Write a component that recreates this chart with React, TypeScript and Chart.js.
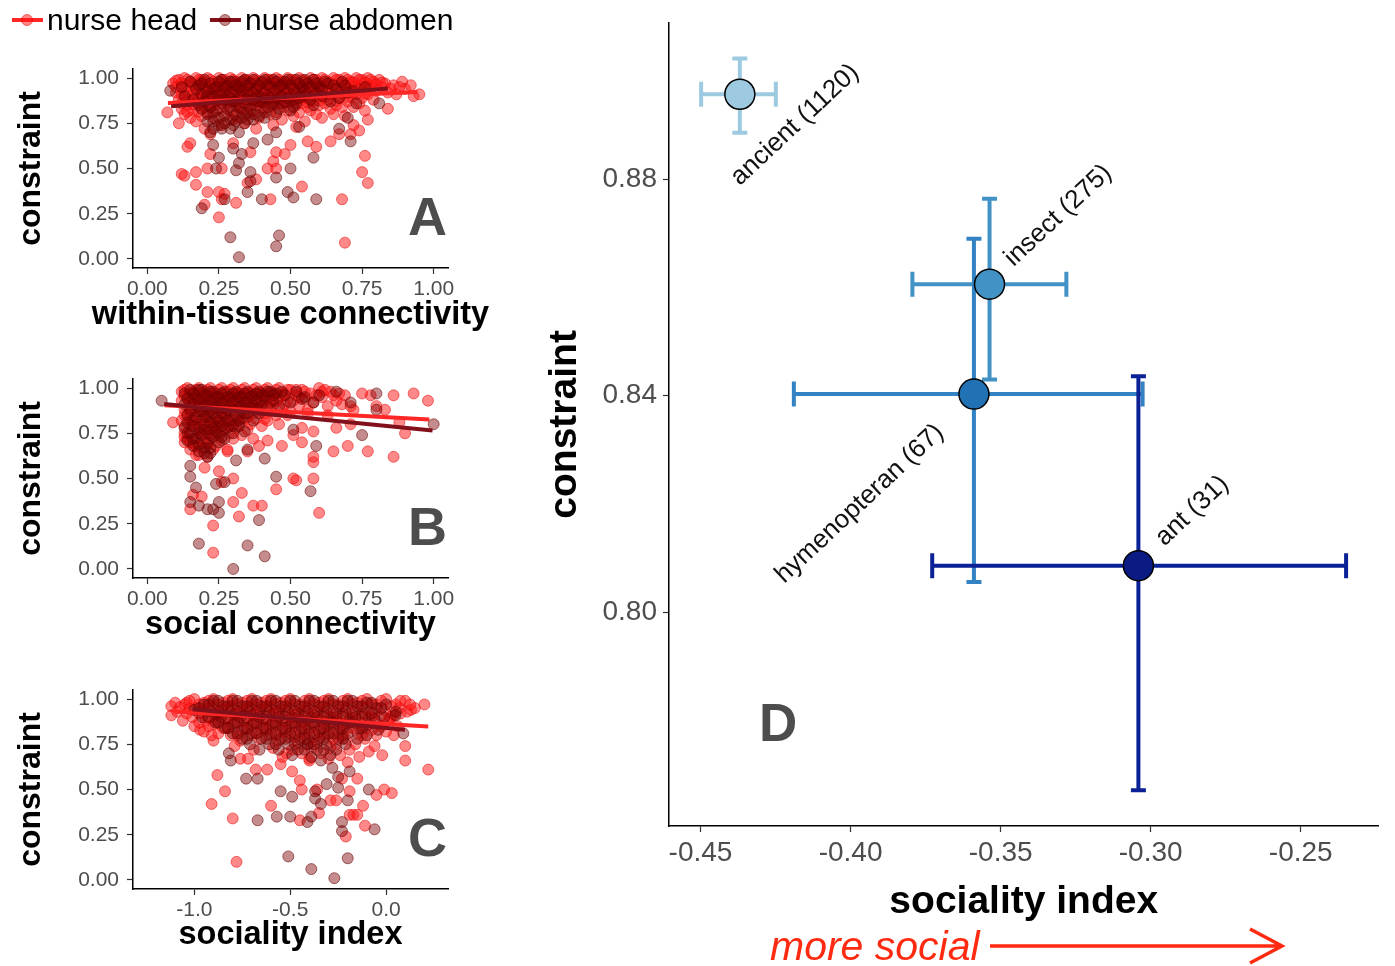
import React, { useEffect, useRef } from "react";
import { Chart, registerables } from "chart.js";
Chart.register(...registerables);

const FONT = "'Liberation Sans', Arial, Helvetica, sans-serif";
Chart.defaults.font.family = FONT;

type P = [number, number];

// ---------------- Panel A: within-tissue connectivity ----------------
const headA: P[] = [
  [0.07,0.81],[0.12,0.47],[0.13,0.46],[0.17,0.48],[0.17,0.41],[0.21,0.37],[0.20,0.30],[0.25,0.37],[0.25,0.23],[0.27,0.36],
  [0.21,0.50],[0.26,0.50],[0.31,0.31],[0.26,0.33],[0.35,0.42],[0.38,0.44],[0.43,0.33],[0.42,0.50],[0.45,0.50],[0.44,0.54],
  [0.48,0.58],[0.54,0.40],[0.69,0.09],[0.68,0.33],[0.76,0.57],[0.75,0.48],[0.77,0.42],[0.77,0.77],[0.74,0.71],[0.84,0.83],
  [0.93,0.90],[0.95,0.91],[0.89,0.98],[0.14,0.62],[0.11,0.75],[0.15,0.64],[0.22,0.58],[0.36,0.59],[0.50,0.63],[0.56,0.65],
  [0.59,0.62],[0.64,0.65],[0.67,0.69],[0.71,0.69],[0.72,0.74],[0.30,0.64],[0.45,0.59],
  [0.09,0.97],[0.10,0.92],[0.11,0.99],[0.12,0.94],[0.11,0.88],[0.12,0.83],[0.13,1.00],[0.14,0.96],[0.13,0.90],[0.14,0.85],
  [0.13,0.80],[0.15,0.98],[0.16,0.93],[0.15,0.87],[0.16,0.82],[0.15,0.78],[0.17,1.00],[0.18,0.97],[0.17,0.91],[0.18,0.86],
  [0.17,0.76],[0.19,0.99],[0.20,0.95],[0.19,0.89],[0.20,0.84],[0.19,0.79],[0.20,0.72],[0.21,1.00],[0.22,0.96],[0.21,0.92],
  [0.22,0.87],[0.21,0.81],[0.22,0.69],[0.23,0.98],[0.24,0.94],[0.23,0.90],[0.24,0.85],[0.23,0.78],[0.25,1.00],[0.26,0.97],
  [0.25,0.93],[0.26,0.88],[0.25,0.83],[0.26,0.74],[0.27,0.99],[0.28,0.95],[0.27,0.91],[0.28,0.86],[0.27,0.80],[0.29,1.00],
  [0.30,0.96],[0.29,0.92],[0.30,0.87],[0.29,0.82],[0.30,0.77],[0.31,0.98],[0.32,0.94],[0.31,0.89],[0.32,0.84],[0.31,0.79],
  [0.33,1.00],[0.34,0.97],[0.33,0.93],[0.34,0.88],[0.33,0.83],[0.34,0.75],[0.35,0.99],[0.36,0.95],[0.35,0.90],[0.36,0.85],
  [0.35,0.80],[0.37,1.00],[0.38,0.96],[0.37,0.92],[0.38,0.87],[0.37,0.82],[0.38,0.72],[0.39,0.98],[0.40,0.94],[0.39,0.89],
  [0.40,0.84],[0.39,0.78],[0.41,1.00],[0.42,0.97],[0.41,0.93],[0.42,0.88],[0.41,0.83],[0.43,0.99],[0.44,0.95],[0.43,0.90],
  [0.44,0.85],[0.43,0.80],[0.44,0.74],[0.45,1.00],[0.46,0.96],[0.45,0.91],[0.46,0.86],[0.45,0.81],[0.47,0.98],[0.48,0.94],
  [0.47,0.89],[0.48,0.84],[0.47,0.77],[0.49,1.00],[0.50,0.97],[0.49,0.92],[0.50,0.87],[0.49,0.82],[0.51,0.99],[0.52,0.95],
  [0.51,0.90],[0.52,0.85],[0.51,0.79],[0.52,0.73],[0.53,1.00],[0.54,0.96],[0.53,0.91],[0.54,0.86],[0.53,0.81],[0.55,0.98],
  [0.56,0.94],[0.55,0.89],[0.56,0.84],[0.55,0.76],[0.57,1.00],[0.58,0.97],[0.57,0.92],[0.58,0.87],[0.57,0.82],[0.59,0.99],
  [0.60,0.95],[0.59,0.90],[0.60,0.85],[0.59,0.80],[0.61,1.00],[0.62,0.96],[0.61,0.91],[0.62,0.86],[0.61,0.78],[0.63,0.98],
  [0.64,0.93],[0.63,0.88],[0.64,0.83],[0.65,1.00],[0.66,0.96],[0.65,0.91],[0.66,0.85],[0.65,0.80],[0.67,0.99],[0.68,0.94],
  [0.67,0.89],[0.68,0.84],[0.69,1.00],[0.70,0.97],[0.69,0.92],[0.70,0.87],[0.69,0.79],[0.71,0.98],[0.72,0.95],[0.71,0.90],
  [0.72,0.84],[0.73,1.00],[0.74,0.96],[0.73,0.91],[0.74,0.86],[0.75,0.99],[0.76,0.94],[0.75,0.89],[0.76,0.82],[0.77,1.00],
  [0.78,0.96],[0.77,0.91],[0.79,0.98],[0.80,0.93],[0.79,0.88],[0.81,0.99],[0.82,0.95],[0.83,0.97],[0.84,0.92],[0.86,0.96],
  [0.87,0.91],[0.90,0.94],
  [0.10,0.985],[0.10,0.95],[0.12,0.97],[0.12,0.905],[0.12,0.86],[0.14,0.99],[0.14,0.925],[0.14,0.875],[0.14,0.815],[0.16,0.965],
  [0.16,0.91],[0.16,0.855],[0.18,0.99],[0.18,0.935],[0.18,0.88],[0.18,0.815],[0.20,0.975],[0.20,0.915],[0.20,0.865],[0.22,0.99],
  [0.22,0.945],[0.22,0.895],[0.22,0.84],[0.24,0.97],[0.24,0.91],[0.24,0.87],[0.26,0.99],[0.26,0.95],[0.26,0.905],[0.28,0.975],
  [0.28,0.925],[0.28,0.875],[0.30,0.99],[0.30,0.94],[0.30,0.90],[0.32,0.97],[0.32,0.915],[0.32,0.86],[0.34,0.99],[0.34,0.945],
  [0.34,0.90],[0.36,0.975],[0.36,0.925],[0.36,0.875],[0.38,0.99],[0.38,0.945],[0.38,0.895],[0.40,0.97],[0.40,0.915],[0.40,0.865],
  [0.42,0.99],[0.42,0.945],[0.42,0.90],[0.44,0.975],[0.44,0.925],[0.44,0.87],[0.46,0.99],[0.46,0.94],[0.46,0.895],[0.48,0.97],
  [0.48,0.915],[0.48,0.865],[0.50,0.99],[0.50,0.945],[0.50,0.90],[0.52,0.975],[0.52,0.925],[0.52,0.875],[0.54,0.99],[0.54,0.94],
  [0.54,0.895],[0.56,0.97],[0.56,0.915],[0.56,0.865],[0.58,0.99],[0.58,0.945],[0.58,0.90],[0.60,0.975],[0.60,0.925],[0.60,0.875],
  [0.62,0.99],[0.62,0.94],[0.62,0.895],[0.64,0.97],[0.64,0.91],[0.66,0.99],[0.66,0.935],[0.66,0.875],[0.68,0.97],[0.68,0.915],
  [0.70,0.99],[0.70,0.94],[0.70,0.895],[0.72,0.975],[0.72,0.92],[0.74,0.99],[0.74,0.94],[0.76,0.975],[0.76,0.915],[0.78,0.99],
  [0.78,0.94],[0.80,0.965],[0.82,0.975],[0.85,0.94],[0.88,0.95],[0.92,0.96],
];
const abdA: P[] = [
  [0.08,0.93],[0.19,0.28],[0.24,0.50],[0.25,0.56],[0.27,0.33],[0.29,0.12],[0.32,0.01],[0.31,0.49],[0.32,0.53],[0.33,0.58],
  [0.35,0.37],[0.36,0.48],[0.36,0.43],[0.40,0.33],[0.45,0.45],[0.45,0.07],[0.46,0.13],[0.49,0.37],[0.51,0.34],[0.50,0.50],
  [0.58,0.56],[0.59,0.33],[0.70,0.78],[0.71,0.65],[0.67,0.72],[0.81,0.86],[0.30,0.61],[0.37,0.64],[0.42,0.66],[0.23,0.63],
  [0.45,0.70],[0.53,0.73],
  [0.12,0.95],[0.13,0.90],[0.15,0.98],[0.16,0.88],[0.18,0.96],[0.19,0.91],[0.18,0.85],[0.20,0.99],[0.21,0.93],[0.20,0.87],
  [0.21,0.80],[0.22,0.97],[0.23,0.90],[0.22,0.84],[0.23,0.76],[0.22,0.70],[0.24,0.95],[0.25,0.88],[0.24,0.82],[0.25,0.74],
  [0.26,0.99],[0.27,0.92],[0.26,0.86],[0.27,0.79],[0.26,0.72],[0.28,0.96],[0.29,0.89],[0.28,0.83],[0.29,0.77],[0.30,0.98],
  [0.31,0.93],[0.30,0.87],[0.31,0.80],[0.30,0.74],[0.32,0.95],[0.33,0.90],[0.32,0.84],[0.33,0.78],[0.32,0.70],[0.34,0.99],
  [0.35,0.92],[0.34,0.86],[0.35,0.81],[0.34,0.75],[0.36,0.97],[0.37,0.88],[0.36,0.83],[0.37,0.77],[0.38,0.94],[0.39,0.90],
  [0.38,0.85],[0.39,0.79],[0.40,0.98],[0.41,0.92],[0.40,0.87],[0.41,0.81],[0.42,0.96],[0.43,0.89],[0.42,0.84],[0.44,0.99],
  [0.45,0.93],[0.44,0.86],[0.45,0.80],[0.46,0.95],[0.47,0.90],[0.46,0.83],[0.48,0.98],[0.49,0.92],[0.48,0.87],[0.50,0.96],
  [0.51,0.88],[0.50,0.82],[0.52,0.99],[0.53,0.93],[0.52,0.86],[0.54,0.95],[0.55,0.90],[0.56,0.97],[0.57,0.88],[0.58,0.99],
  [0.59,0.92],[0.58,0.85],[0.60,0.95],[0.61,0.90],[0.63,0.97],[0.64,0.87],[0.66,0.94],[0.67,0.89],[0.69,0.96],[0.72,0.93],
  [0.73,0.86],[0.76,0.95],
  [0.17,0.94],[0.19,0.97],[0.19,0.83],[0.21,0.90],[0.21,0.76],[0.23,0.94],[0.23,0.81],[0.23,0.72],[0.25,0.98],[0.25,0.91],
  [0.25,0.78],[0.27,0.95],[0.27,0.88],[0.27,0.75],[0.29,0.98],[0.29,0.92],[0.29,0.84],[0.29,0.72],[0.31,0.96],[0.31,0.87],
  [0.31,0.76],[0.33,0.98],[0.33,0.93],[0.33,0.81],[0.35,0.96],[0.35,0.88],[0.35,0.77],[0.37,0.99],[0.37,0.92],[0.37,0.80],
  [0.39,0.96],[0.39,0.87],[0.41,0.99],[0.41,0.89],[0.41,0.78],[0.43,0.95],[0.43,0.86],[0.45,0.98],[0.45,0.89],[0.47,0.96],
  [0.47,0.86],[0.49,0.99],[0.49,0.89],[0.51,0.94],[0.51,0.84],[0.53,0.97],[0.53,0.89],[0.55,0.99],[0.55,0.93],[0.57,0.95],
  [0.59,0.97],[0.61,0.94],[0.62,0.98],[0.65,0.96],[0.68,0.98],[0.70,0.92],
];
const fitHeadA: P[] = [[0.072, 0.862], [0.943, 0.923]];
const fitAbdA: P[] = [[0.083, 0.844], [0.84, 0.942]];

// ---------------- Panel B: social connectivity ----------------
const headB: P[] = [
  [0.09,0.81],[0.15,0.33],[0.16,0.41],[0.19,0.40],[0.23,0.24],[0.23,0.09],[0.25,0.54],[0.26,0.48],[0.30,0.37],[0.32,0.29],
  [0.33,0.42],[0.35,0.65],[0.37,0.35],[0.40,0.35],[0.39,0.68],[0.42,0.71],[0.45,0.44],[0.47,0.68],[0.51,0.74],[0.51,0.50],
  [0.52,0.49],[0.54,0.70],[0.54,0.78],[0.58,0.59],[0.58,0.50],[0.58,0.76],[0.60,0.31],[0.58,0.62],[0.65,0.65],[0.68,0.91],
  [0.70,0.68],[0.72,0.88],[0.77,0.65],[0.78,0.96],[0.80,0.90],[0.86,0.62],[0.86,0.96],[0.88,0.81],[0.90,0.75],[0.93,0.97],
  [0.98,0.93],[0.67,0.97],[0.61,0.98],[0.75,0.97],[0.83,0.88],[0.56,0.86],[0.63,0.85],[0.66,0.78],[0.71,0.80],[0.30,0.50],
  [0.28,0.65],[0.20,0.56],[0.18,0.63],
  [0.12,0.98],[0.12,0.93],[0.13,0.88],[0.12,0.82],[0.13,0.75],[0.13,0.70],[0.14,1.00],[0.14,0.95],[0.15,0.90],[0.14,0.85],
  [0.15,0.79],[0.14,0.72],[0.15,0.66],[0.16,0.98],[0.16,0.93],[0.17,0.87],[0.16,0.81],[0.17,0.76],[0.16,0.69],[0.17,0.63],
  [0.18,1.00],[0.18,0.95],[0.19,0.90],[0.18,0.84],[0.19,0.78],[0.18,0.73],[0.19,0.67],[0.20,0.98],[0.20,0.92],[0.21,0.87],
  [0.20,0.81],[0.21,0.75],[0.20,0.70],[0.21,0.62],[0.22,1.00],[0.22,0.95],[0.23,0.89],[0.22,0.84],[0.23,0.78],[0.22,0.72],
  [0.23,0.66],[0.24,0.97],[0.24,0.92],[0.25,0.86],[0.24,0.80],[0.25,0.74],[0.24,0.68],[0.26,1.00],[0.26,0.94],[0.27,0.89],
  [0.26,0.83],[0.27,0.77],[0.26,0.71],[0.28,0.98],[0.28,0.93],[0.29,0.87],[0.28,0.81],[0.29,0.75],[0.28,0.66],[0.30,1.00],
  [0.30,0.95],[0.31,0.90],[0.30,0.84],[0.31,0.78],[0.30,0.72],[0.32,0.97],[0.32,0.92],[0.33,0.86],[0.32,0.80],[0.33,0.74],
  [0.34,1.00],[0.34,0.94],[0.35,0.89],[0.34,0.83],[0.35,0.77],[0.36,0.97],[0.36,0.91],[0.37,0.86],[0.36,0.80],[0.37,0.72],
  [0.38,1.00],[0.38,0.94],[0.39,0.88],[0.38,0.83],[0.40,0.97],[0.40,0.92],[0.41,0.86],[0.40,0.79],[0.42,1.00],[0.42,0.94],
  [0.43,0.89],[0.42,0.82],[0.44,0.97],[0.44,0.91],[0.45,0.85],[0.46,1.00],[0.46,0.94],[0.47,0.88],[0.46,0.80],[0.48,0.97],
  [0.48,0.91],[0.49,0.85],[0.50,0.99],[0.51,0.93],[0.50,0.87],[0.52,0.96],[0.53,0.90],[0.54,0.99],[0.55,0.94],[0.56,0.88],
  [0.57,0.97],[0.58,0.92],[0.60,1.00],[0.61,0.95],[0.63,0.90],[0.64,0.98],[0.66,0.93],[0.69,0.96],[0.71,0.90],
  [0.13,0.99],[0.13,0.955],[0.13,0.85],[0.13,0.79],[0.13,0.73],[0.15,0.97],[0.15,0.925],[0.15,0.87],[0.15,0.82],[0.15,0.70],
  [0.17,0.99],[0.17,0.95],[0.17,0.90],[0.17,0.80],[0.17,0.68],[0.19,0.97],[0.19,0.925],[0.19,0.82],[0.19,0.75],[0.21,0.99],
  [0.21,0.95],[0.21,0.90],[0.21,0.79],[0.21,0.69],[0.23,0.97],[0.23,0.92],[0.23,0.81],[0.23,0.75],[0.25,0.99],[0.25,0.945],
  [0.25,0.89],[0.25,0.78],[0.27,0.965],[0.27,0.92],[0.27,0.83],[0.29,0.99],[0.29,0.945],[0.29,0.90],[0.29,0.79],[0.31,0.97],
  [0.31,0.93],[0.31,0.82],[0.33,0.99],[0.33,0.95],[0.33,0.90],[0.35,0.97],[0.35,0.92],[0.35,0.84],[0.37,0.99],[0.37,0.94],
  [0.37,0.89],[0.39,0.97],[0.39,0.92],[0.41,0.99],[0.41,0.94],[0.41,0.83],[0.43,0.97],[0.43,0.92],[0.45,0.99],[0.45,0.93],
  [0.47,0.96],[0.49,0.99],[0.49,0.93],[0.52,0.99],[0.53,0.95],[0.55,0.98],[0.59,0.96],[0.62,0.99],[0.65,0.96],
];
const abdB: P[] = [
  [0.05,0.93],[0.15,0.57],[0.15,0.51],[0.15,0.37],[0.17,0.45],[0.18,0.35],[0.18,0.14],[0.21,0.33],[0.23,0.33],[0.25,0.37],
  [0.25,0.31],[0.24,0.47],[0.27,0.48],[0.31,0.60],[0.35,0.66],[0.35,0.13],[0.39,0.27],[0.41,0.07],[0.30,0.00],[0.41,0.61],
  [0.45,0.51],[0.51,0.77],[0.57,0.43],[0.59,0.68],[0.54,0.94],[0.60,0.96],[0.66,0.98],[0.75,0.74],[0.80,0.88],[0.80,0.97],
  [1.00,0.80],[0.71,0.92],
  [0.13,0.97],[0.13,0.91],[0.14,0.85],[0.13,0.78],[0.14,0.71],[0.15,0.99],[0.16,0.94],[0.15,0.88],[0.16,0.82],[0.15,0.75],
  [0.16,0.68],[0.17,0.96],[0.18,0.90],[0.17,0.84],[0.18,0.78],[0.17,0.72],[0.18,0.65],[0.19,0.99],[0.20,0.93],[0.19,0.87],
  [0.20,0.80],[0.19,0.74],[0.20,0.67],[0.21,0.62],[0.21,0.96],[0.22,0.90],[0.21,0.84],[0.22,0.77],[0.21,0.70],[0.22,0.64],
  [0.23,0.98],[0.24,0.92],[0.23,0.86],[0.24,0.79],[0.23,0.73],[0.25,0.95],[0.26,0.89],[0.25,0.82],[0.26,0.76],[0.25,0.70],
  [0.27,0.98],[0.28,0.91],[0.27,0.85],[0.28,0.78],[0.27,0.72],[0.29,0.95],[0.30,0.88],[0.29,0.82],[0.30,0.75],[0.31,0.98],
  [0.32,0.92],[0.31,0.85],[0.32,0.79],[0.33,0.95],[0.34,0.89],[0.33,0.83],[0.34,0.76],[0.35,0.98],[0.36,0.92],[0.35,0.86],
  [0.37,0.96],[0.38,0.89],[0.37,0.82],[0.39,0.98],[0.40,0.93],[0.39,0.86],[0.41,0.96],[0.42,0.90],[0.43,0.98],[0.44,0.93],
  [0.45,0.97],[0.46,0.90],[0.48,0.96],[0.50,0.92],[0.52,0.98],[0.55,0.95],[0.58,0.92],
  [0.14,0.94],[0.14,0.81],[0.14,0.75],[0.16,0.97],[0.16,0.91],[0.16,0.79],[0.16,0.72],[0.18,0.99],[0.18,0.93],[0.18,0.87],
  [0.18,0.75],[0.18,0.69],[0.20,0.96],[0.20,0.90],[0.20,0.84],[0.20,0.77],[0.20,0.64],[0.22,0.98],[0.22,0.93],[0.22,0.87],
  [0.22,0.81],[0.22,0.74],[0.22,0.67],[0.24,0.95],[0.24,0.89],[0.24,0.83],[0.24,0.76],[0.26,0.97],[0.26,0.92],[0.26,0.86],
  [0.26,0.79],[0.26,0.73],[0.28,0.95],[0.28,0.88],[0.28,0.82],[0.30,0.97],[0.30,0.92],[0.30,0.79],[0.32,0.95],[0.32,0.89],
  [0.32,0.82],[0.34,0.97],[0.34,0.92],[0.34,0.86],[0.36,0.95],[0.36,0.89],[0.38,0.97],[0.38,0.93],[0.40,0.96],[0.40,0.90],
  [0.42,0.98],[0.44,0.96],[0.47,0.98],
];
const fitHeadB: P[] = [[0.06, 0.905], [0.985, 0.826]];
const fitAbdB: P[] = [[0.059, 0.912], [0.996, 0.765]];

// ---------------- Panel C: sociality index ----------------
const headC: P[] = [
  [-1.12,0.96],[-1.12,0.91],[-1.04,0.98],[-0.97,0.83],[-0.90,0.77],[-0.91,0.42],[-0.88,0.58],[-0.84,0.49],[-0.80,0.34],[-0.78,0.10],
  [-0.76,0.67],[-0.72,0.67],[-0.68,0.61],[-0.62,0.61],[-0.60,0.41],[-0.55,0.64],[-0.49,0.60],[-0.45,0.55],[-0.45,0.33],[-0.44,0.50],
  [-0.36,0.50],[-0.35,0.37],[-0.29,0.44],[-0.26,0.44],[-0.19,0.36],[-0.17,0.36],[-0.15,0.36],[-0.12,0.41],[-0.11,0.30],[-0.21,0.24],
  [-0.19,0.49],[-0.05,0.47],[-0.01,0.50],[0.03,0.48],[0.10,0.66],[0.10,0.74],[0.22,0.61],[0.20,0.97],[0.13,0.94],[0.07,0.95],
  [0.02,0.89],[0.04,0.80],[-0.02,0.69],[-0.15,0.56],[-0.23,0.56],[-0.40,0.67],[-0.52,0.70],
  [-1.10,0.98],[-1.09,0.93],[-1.05,0.97],[-1.04,0.92],[-1.06,0.88],[-1.00,1.00],[-0.99,0.95],[-1.01,0.90],[-1.00,0.85],
  [-0.95,0.98],[-0.96,0.93],[-0.94,0.88],[-0.95,0.82],[-0.90,1.00],[-0.91,0.96],[-0.89,0.91],[-0.90,0.86],[-0.91,0.80],
  [-0.85,0.98],[-0.86,0.94],[-0.84,0.89],[-0.85,0.84],[-0.80,1.00],[-0.81,0.96],[-0.79,0.91],[-0.80,0.86],[-0.81,0.80],[-0.79,0.74],
  [-0.75,0.98],[-0.76,0.93],[-0.74,0.88],[-0.75,0.83],[-0.76,0.77],[-0.70,1.00],[-0.71,0.96],[-0.69,0.91],[-0.70,0.86],[-0.71,0.80],
  [-0.69,0.72],[-0.65,0.98],[-0.66,0.94],[-0.64,0.89],[-0.65,0.84],[-0.66,0.78],[-0.60,1.00],[-0.61,0.96],[-0.59,0.91],[-0.60,0.86],
  [-0.61,0.80],[-0.59,0.73],[-0.55,0.98],[-0.56,0.93],[-0.54,0.88],[-0.55,0.83],[-0.56,0.77],[-0.54,0.68],[-0.50,1.00],[-0.51,0.95],
  [-0.49,0.90],[-0.50,0.85],[-0.51,0.79],[-0.49,0.72],[-0.45,0.97],[-0.46,0.92],[-0.44,0.87],[-0.45,0.82],[-0.46,0.76],[-0.44,0.70],
  [-0.40,1.00],[-0.41,0.95],[-0.39,0.90],[-0.40,0.84],[-0.41,0.78],[-0.39,0.73],[-0.40,0.66],[-0.35,0.98],[-0.36,0.93],[-0.34,0.88],
  [-0.35,0.82],[-0.36,0.76],[-0.34,0.70],[-0.30,1.00],[-0.31,0.95],[-0.29,0.90],[-0.30,0.85],[-0.31,0.79],[-0.29,0.73],[-0.30,0.67],
  [-0.25,0.97],[-0.26,0.92],[-0.24,0.87],[-0.25,0.81],[-0.26,0.75],[-0.24,0.69],[-0.20,1.00],[-0.21,0.95],[-0.19,0.89],[-0.20,0.84],
  [-0.21,0.78],[-0.19,0.72],[-0.20,0.65],[-0.15,0.98],[-0.16,0.93],[-0.14,0.87],[-0.15,0.81],[-0.16,0.75],[-0.14,0.68],[-0.10,1.00],
  [-0.11,0.95],[-0.09,0.90],[-0.10,0.84],[-0.11,0.78],[-0.09,0.71],[-0.05,0.97],[-0.06,0.92],[-0.04,0.86],[-0.05,0.80],[-0.06,0.74],
  [0.00,1.00],[-0.01,0.94],[0.01,0.88],[0.00,0.82],[0.05,0.97],[0.04,0.91],[0.06,0.85],[0.10,0.99],[0.11,0.93],[0.15,0.95],
  [-1.075,0.955],[-1.025,0.99],[-1.025,0.945],[-0.975,0.97],[-0.975,0.92],[-0.975,0.87],[-0.925,0.99],[-0.925,0.945],[-0.925,0.895],
  [-0.925,0.85],[-0.875,0.97],[-0.875,0.92],[-0.875,0.87],[-0.875,0.81],[-0.825,0.99],[-0.825,0.945],[-0.825,0.895],[-0.825,0.84],
  [-0.775,0.97],[-0.775,0.92],[-0.775,0.87],[-0.775,0.80],[-0.725,0.99],[-0.725,0.945],[-0.725,0.895],[-0.725,0.835],[-0.675,0.97],
  [-0.675,0.92],[-0.675,0.865],[-0.675,0.81],[-0.625,0.99],[-0.625,0.945],[-0.625,0.885],[-0.625,0.83],[-0.575,0.97],[-0.575,0.92],
  [-0.575,0.86],[-0.575,0.80],[-0.525,0.99],[-0.525,0.94],[-0.525,0.88],[-0.525,0.82],[-0.475,0.97],[-0.475,0.91],[-0.475,0.85],
  [-0.475,0.79],[-0.425,0.99],[-0.425,0.935],[-0.425,0.875],[-0.425,0.81],[-0.375,0.97],[-0.375,0.91],[-0.375,0.85],[-0.375,0.79],
  [-0.325,0.99],[-0.325,0.925],[-0.325,0.87],[-0.325,0.81],[-0.275,0.97],[-0.275,0.90],[-0.275,0.84],[-0.275,0.78],[-0.225,0.99],
  [-0.225,0.92],[-0.225,0.86],[-0.225,0.80],[-0.175,0.97],[-0.175,0.90],[-0.175,0.84],[-0.125,0.99],[-0.125,0.92],[-0.125,0.86],
  [-0.125,0.80],[-0.075,0.97],[-0.075,0.90],[-0.075,0.83],[-0.025,0.99],[-0.025,0.91],[-0.025,0.85],[0.025,0.96],[0.025,0.90],
  [0.075,0.99],[0.075,0.92],[0.125,0.97],
];
const abdC: P[] = [
  [-0.67,0.56],[-0.67,0.33],[-0.57,0.35],[-0.55,0.49],[-0.50,0.35],[-0.51,0.13],[-0.49,0.46],[-0.41,0.32],[-0.39,0.35],[-0.39,0.06],
  [-0.37,0.45],[-0.37,0.49],[-0.34,0.42],[-0.31,0.53],[-0.27,0.01],[-0.25,0.57],[-0.25,0.51],[-0.23,0.32],[-0.23,0.27],[-0.20,0.12],
  [-0.20,0.44],[-0.19,0.60],[-0.09,0.50],[-0.06,0.28],[-0.82,0.70],[-0.81,0.66],[-0.73,0.56],[0.09,0.81],[0.05,0.91],[-0.41,0.75],
  [-0.28,0.62],
  [-1.00,0.94],[-0.95,0.97],[-0.96,0.90],[-0.90,0.99],[-0.91,0.93],[-0.89,0.87],[-0.85,0.96],[-0.86,0.90],[-0.84,0.84],
  [-0.80,0.99],[-0.81,0.93],[-0.79,0.87],[-0.80,0.81],[-0.75,0.96],[-0.76,0.90],[-0.74,0.84],[-0.75,0.78],[-0.70,0.99],[-0.71,0.93],
  [-0.69,0.87],[-0.70,0.81],[-0.71,0.75],[-0.65,0.96],[-0.66,0.90],[-0.64,0.84],[-0.65,0.78],[-0.66,0.72],[-0.60,0.99],[-0.61,0.93],
  [-0.59,0.87],[-0.60,0.81],[-0.61,0.75],[-0.55,0.96],[-0.56,0.90],[-0.54,0.84],[-0.55,0.78],[-0.56,0.72],[-0.50,0.99],[-0.51,0.93],
  [-0.49,0.87],[-0.50,0.81],[-0.51,0.75],[-0.49,0.69],[-0.45,0.96],[-0.46,0.90],[-0.44,0.84],[-0.45,0.78],[-0.46,0.72],[-0.40,0.99],
  [-0.41,0.93],[-0.39,0.87],[-0.40,0.81],[-0.41,0.75],[-0.39,0.68],[-0.35,0.96],[-0.36,0.90],[-0.34,0.84],[-0.35,0.78],[-0.36,0.72],
  [-0.34,0.66],[-0.30,0.99],[-0.31,0.93],[-0.29,0.87],[-0.30,0.81],[-0.31,0.75],[-0.29,0.69],[-0.25,0.96],[-0.26,0.90],[-0.24,0.84],
  [-0.25,0.78],[-0.26,0.72],[-0.20,0.99],[-0.21,0.93],[-0.19,0.87],[-0.20,0.81],[-0.21,0.75],[-0.15,0.96],[-0.16,0.90],[-0.14,0.84],
  [-0.15,0.78],[-0.10,0.98],[-0.11,0.92],[-0.09,0.86],[-0.10,0.80],[-0.05,0.95],[-0.06,0.89],[-0.04,0.83],[0.00,0.97],[-0.01,0.90],
  [0.05,0.93],
  [-0.975,0.95],[-0.925,0.97],[-0.925,0.90],[-0.875,0.99],[-0.875,0.93],[-0.875,0.87],[-0.825,0.96],[-0.825,0.90],[-0.825,0.84],
  [-0.775,0.99],[-0.775,0.93],[-0.775,0.87],[-0.775,0.81],[-0.725,0.96],[-0.725,0.90],[-0.725,0.84],[-0.725,0.78],[-0.675,0.99],
  [-0.675,0.93],[-0.675,0.87],[-0.675,0.81],[-0.625,0.96],[-0.625,0.90],[-0.625,0.84],[-0.625,0.78],[-0.575,0.99],[-0.575,0.93],
  [-0.575,0.87],[-0.575,0.81],[-0.575,0.75],[-0.525,0.96],[-0.525,0.90],[-0.525,0.84],[-0.525,0.78],[-0.475,0.99],[-0.475,0.93],
  [-0.475,0.87],[-0.475,0.81],[-0.475,0.75],[-0.425,0.96],[-0.425,0.90],[-0.425,0.84],[-0.425,0.78],[-0.425,0.72],[-0.375,0.99],
  [-0.375,0.93],[-0.375,0.87],[-0.375,0.81],[-0.375,0.75],[-0.325,0.96],[-0.325,0.90],[-0.325,0.84],[-0.325,0.78],[-0.325,0.72],
  [-0.275,0.99],[-0.275,0.93],[-0.275,0.87],[-0.275,0.81],[-0.225,0.96],[-0.225,0.90],[-0.225,0.84],[-0.225,0.78],[-0.175,0.99],
  [-0.175,0.93],[-0.175,0.87],[-0.125,0.96],[-0.125,0.90],[-0.125,0.84],[-0.075,0.98],[-0.075,0.92],[-0.025,0.95],
];
const fitHeadC: P[] = [[-1.11, 0.931], [0.22, 0.848]];
const fitAbdC: P[] = [[-1.01, 0.944], [0.099, 0.83]];

// ---------------- tick values / labels ----------------
const unitTicks = [0, 0.25, 0.5, 0.75, 1];
const unitTickLabels = ["0.00", "0.25", "0.50", "0.75", "1.00"];
const socTicksC = [-1, -0.5, 0];
const socTickLabelsC = ["-1.0", "-0.5", "0.0"];
const dXTicks = [-0.45, -0.4, -0.35, -0.3, -0.25];
const dXTickLabels = ["-0.45", "-0.40", "-0.35", "-0.30", "-0.25"];
const dYTicks = [0.8, 0.84, 0.88];
const dYTickLabels = ["0.80", "0.84", "0.88"];

// ---------------- Panel D: group means with intervals ----------------
const groupNames = ["ancient (1120)", "insect (275)", "hymenopteran (67)", "ant (31)"];
const groupX = [-0.4369, -0.3537, -0.3589, -0.3041];
const groupY = [0.8957, 0.8606, 0.8403, 0.8086];
const groupXLo = [-0.4498, -0.3794, -0.4189, -0.3728];
const groupXHi = [-0.4249, -0.3281, -0.3027, -0.2349];
const groupYLo = [0.8886, 0.843, 0.8056, 0.7671];
const groupYHi = [0.9023, 0.8764, 0.869, 0.8436];

// ---------------- styles ----------------
const HEAD_FILL = "rgba(255,20,20,0.5)";
const HEAD_EDGE = "rgba(230,0,0,0.5)";
const ABD_FILL = "rgba(125,0,0,0.45)";
const ABD_EDGE = "rgba(100,0,0,0.55)";
const HEAD_LINE = "#ff2626";
const ABD_LINE = "#82101a";
const TICK_TEXT = "#4d4d4d";
const dotColors = ["#9ecae1", "#4292c6", "#2171b5", "#0a1c84"];
const barColors = ["#9ecae1", "#4292c6", "#3383c4", "#0b2196"];
const labelStyle = [
  { dx: 0, dy: 92, align: "left" },
  { dx: 24, dy: -17, align: "left" },
  { dx: -29, dy: 40, align: "right" },
  { dx: 26, dy: -19, align: "left" },
];

const pts = (a: P[]) => a.map(([x, y]) => ({ x, y }));

const gridStyle = {
  display: true,
  drawOnChartArea: false,
  drawTicks: true,
  tickLength: 6,
  tickWidth: 1.2,
  tickColor: "#333333",
};
const borderStyle = { display: true, color: "#000000", width: 1.5 };

interface SmallSpec {
  head: P[];
  abd: P[];
  fitHead: P[];
  fitAbd: P[];
  xMin: number;
  xMax: number;
  xTicks: number[];
  xLabels: string[];
  xTitle: string;
  letter: string;
  legend: boolean;
  titleBaseline: number;
}

function smallConfig(s: SmallSpec): any {
  const overlay = {
    id: "overlay" + s.letter,
    afterDraw(chart: any) {
      const { ctx, chartArea } = chart;
      ctx.save();
      ctx.font = `bold 32.5px ${FONT}`;
      ctx.fillStyle = "#000";
      ctx.textAlign = "center";
      ctx.textBaseline = "alphabetic";
      ctx.fillText(s.xTitle, (chartArea.left + chartArea.right) / 2, s.titleBaseline);
      ctx.font = `bold 54px ${FONT}`;
      ctx.fillStyle = TICK_TEXT;
      ctx.textAlign = "right";
      ctx.fillText(s.letter, chartArea.right - 1, chartArea.bottom - 33);
      if (s.legend) {
        const items = [
          { label: "nurse head", line: HEAD_LINE, fill: HEAD_FILL, edge: HEAD_EDGE, x: 12 },
          { label: "nurse abdomen", line: ABD_LINE, fill: ABD_FILL, edge: ABD_EDGE, x: 210 },
        ];
        for (const it of items) {
          ctx.strokeStyle = it.line;
          ctx.lineWidth = 4;
          ctx.beginPath();
          ctx.moveTo(it.x, 20);
          ctx.lineTo(it.x + 31, 20);
          ctx.stroke();
          ctx.beginPath();
          ctx.arc(it.x + 15, 20, 5.5, 0, Math.PI * 2);
          ctx.fillStyle = it.fill;
          ctx.fill();
          ctx.strokeStyle = it.edge;
          ctx.lineWidth = 1;
          ctx.stroke();
          ctx.fillStyle = "#000";
          ctx.font = `30px ${FONT}`;
          ctx.textAlign = "left";
          ctx.fillText(it.label, it.x + 35, 30);
        }
      }
      ctx.restore();
    },
  };
  return {
    type: "scatter",
    data: {
      datasets: [
        { data: pts(s.head), backgroundColor: HEAD_FILL, borderColor: HEAD_EDGE, borderWidth: 1, pointRadius: 5.5, order: 4 },
        { data: pts(s.abd), backgroundColor: ABD_FILL, borderColor: ABD_EDGE, borderWidth: 1, pointRadius: 5.5, order: 3 },
        { data: pts(s.fitHead), showLine: true, borderColor: HEAD_LINE, borderWidth: 4, pointRadius: 0, order: 2 },
        { data: pts(s.fitAbd), showLine: true, borderColor: ABD_LINE, borderWidth: 4, pointRadius: 0, order: 1 },
      ],
    },
    options: {
      animation: false,
      responsive: false,
      events: [],
      layout: { padding: { top: 69, right: 52, left: 0, bottom: 0 } },
      plugins: { legend: { display: false }, tooltip: { enabled: false } },
      scales: {
        x: {
          type: "linear",
          min: s.xMin,
          max: s.xMax,
          afterFit: (sc: any) => { sc.height = 72; },
          afterBuildTicks: (sc: any) => { sc.ticks = s.xTicks.map((value) => ({ value })); },
          ticks: {
            autoSkip: false,
            maxRotation: 0,
            color: TICK_TEXT,
            padding: 3,
            font: { size: 21, family: FONT },
            callback: (_v: any, i: number) => s.xLabels[i],
          },
          grid: gridStyle,
          border: borderStyle,
          title: { display: false },
        },
        y: {
          type: "linear",
          min: -0.05,
          max: 1.05,
          afterFit: (sc: any) => { sc.width = 133; },
          afterBuildTicks: (sc: any) => { sc.ticks = unitTicks.map((value) => ({ value })); },
          ticks: {
            autoSkip: false,
            color: TICK_TEXT,
            padding: 8,
            font: { size: 21, family: FONT },
            callback: (_v: any, i: number) => unitTickLabels[i],
          },
          grid: gridStyle,
          border: borderStyle,
          title: {
            display: true,
            text: "constraint",
            color: "#000",
            font: { size: 32, weight: "bold", family: FONT },
            padding: { top: 12, bottom: 0 },
          },
        },
      },
    },
    plugins: [overlay],
  };
}

function bigConfig(): any {
  const overlay = {
    id: "groupOverlay",
    beforeDatasetsDraw(chart: any) {
      const { ctx, scales } = chart;
      const xs = scales.x;
      const ys = scales.y;
      ctx.save();
      ctx.lineWidth = 4;
      ctx.lineCap = "butt";
      for (let i = 0; i < groupX.length; i++) {
        const px = xs.getPixelForValue(groupX[i]);
        const py = ys.getPixelForValue(groupY[i]);
        const x0 = xs.getPixelForValue(groupXLo[i]);
        const x1 = xs.getPixelForValue(groupXHi[i]);
        const y0 = ys.getPixelForValue(groupYLo[i]);
        const y1 = ys.getPixelForValue(groupYHi[i]);
        ctx.strokeStyle = barColors[i];
        ctx.beginPath();
        ctx.moveTo(x0, py); ctx.lineTo(x1, py);
        ctx.moveTo(x0, py - 12.5); ctx.lineTo(x0, py + 12.5);
        ctx.moveTo(x1, py - 12.5); ctx.lineTo(x1, py + 12.5);
        ctx.moveTo(px, y0); ctx.lineTo(px, y1);
        ctx.moveTo(px - 7.5, y0); ctx.lineTo(px + 7.5, y0);
        ctx.moveTo(px - 7.5, y1); ctx.lineTo(px + 7.5, y1);
        ctx.stroke();
      }
      ctx.restore();
    },
    afterDraw(chart: any) {
      const { ctx, scales, chartArea } = chart;
      ctx.save();
      ctx.font = `26px ${FONT}`;
      ctx.fillStyle = "#111";
      ctx.textBaseline = "alphabetic";
      for (let i = 0; i < groupNames.length; i++) {
        const px = scales.x.getPixelForValue(groupX[i]);
        const py = scales.y.getPixelForValue(groupY[i]);
        const st = labelStyle[i];
        ctx.save();
        ctx.translate(px + st.dx, py + st.dy);
        ctx.rotate((-43 * Math.PI) / 180);
        ctx.textAlign = st.align as CanvasTextAlign;
        ctx.fillText(groupNames[i], 0, 0);
        ctx.restore();
      }
      ctx.font = `bold 53px ${FONT}`;
      ctx.fillStyle = TICK_TEXT;
      ctx.textAlign = "left";
      ctx.fillText("D", chartArea.left + 90, chartArea.bottom - 85);
      const red = "#ff2a10";
      ctx.font = `italic 41px ${FONT}`;
      ctx.fillStyle = red;
      ctx.fillText("more social", chartArea.left + 101, 960);
      ctx.strokeStyle = red;
      ctx.lineWidth = 3.5;
      const ax0 = chartArea.left + 321;
      const ax1 = chartArea.left + 613;
      ctx.beginPath();
      ctx.moveTo(ax0, 946);
      ctx.lineTo(ax1, 946);
      ctx.moveTo(ax1 - 32, 929);
      ctx.lineTo(ax1, 946);
      ctx.lineTo(ax1 - 32, 963);
      ctx.stroke();
      ctx.restore();
    },
  };
  return {
    type: "scatter",
    data: {
      datasets: [
        {
          data: groupX.map((x, i) => ({ x, y: groupY[i] })),
          pointRadius: 15,
          pointBackgroundColor: dotColors,
          pointBorderColor: "#000",
          pointBorderWidth: 1.5,
        },
      ],
    },
    options: {
      animation: false,
      responsive: false,
      events: [],
      layout: { padding: { top: 20, right: 4, left: 0, bottom: 0 } },
      plugins: { legend: { display: false }, tooltip: { enabled: false } },
      scales: {
        x: {
          type: "linear",
          min: -0.4605,
          max: -0.2241,
          afterFit: (sc: any) => { sc.height = 140; },
          afterBuildTicks: (sc: any) => { sc.ticks = dXTicks.map((value) => ({ value })); },
          ticks: {
            autoSkip: false,
            maxRotation: 0,
            color: TICK_TEXT,
            padding: 4,
            font: { size: 28, family: FONT },
            callback: (_v: any, i: number) => dXTickLabels[i],
          },
          grid: gridStyle,
          border: borderStyle,
          title: {
            display: true,
            text: "sociality index",
            color: "#000",
            font: { size: 39, weight: "bold", family: FONT },
            padding: { top: 0, bottom: 40 },
          },
        },
        y: {
          type: "linear",
          min: 0.7605,
          max: 0.9089,
          afterFit: (sc: any) => { sc.width = 129; },
          afterBuildTicks: (sc: any) => { sc.ticks = dYTicks.map((value) => ({ value })); },
          ticks: {
            autoSkip: false,
            color: TICK_TEXT,
            padding: 6,
            font: { size: 28, family: FONT },
            callback: (_v: any, i: number) => dYTickLabels[i],
          },
          grid: gridStyle,
          border: borderStyle,
          title: {
            display: true,
            text: "constraint",
            color: "#000",
            font: { size: 39, weight: "bold", family: FONT },
            padding: { top: 2, bottom: 0 },
          },
        },
      },
    },
    plugins: [overlay],
  };
}

function ChartCanvas(props: { make: () => any; left: number; top: number; width: number; height: number }) {
  const ref = useRef<HTMLCanvasElement>(null);
  useEffect(() => {
    const chart = new Chart(ref.current as HTMLCanvasElement, props.make());
    return () => chart.destroy();
  }, []);
  return (
    <canvas
      ref={ref}
      width={props.width}
      height={props.height}
      style={{ position: "absolute", left: props.left, top: props.top, width: props.width, height: props.height }}
    />
  );
}

export default function App() {
  return (
    <div style={{ position: "absolute", left: 0, top: 0, width: 1395, height: 966, background: "#fff", overflow: "hidden" }}>
      <ChartCanvas
        left={0} top={0} width={500} height={340}
        make={() => smallConfig({
          head: headA, abd: abdA, fitHead: fitHeadA, fitAbd: fitAbdA,
          xMin: -0.05, xMax: 1.05, xTicks: unitTicks, xLabels: unitTickLabels,
          xTitle: "within-tissue connectivity", letter: "A", legend: true, titleBaseline: 324,
        })}
      />
      <ChartCanvas
        left={0} top={310} width={500} height={340}
        make={() => smallConfig({
          head: headB, abd: abdB, fitHead: fitHeadB, fitAbd: fitAbdB,
          xMin: -0.05, xMax: 1.05, xTicks: unitTicks, xLabels: unitTickLabels,
          xTitle: "social connectivity", letter: "B", legend: false, titleBaseline: 324,
        })}
      />
      <ChartCanvas
        left={0} top={621} width={500} height={340}
        make={() => smallConfig({
          head: headC, abd: abdC, fitHead: fitHeadC, fitAbd: fitAbdC,
          xMin: -1.32, xMax: 0.323, xTicks: socTicksC, xLabels: socTickLabelsC,
          xTitle: "sociality index", letter: "C", legend: false, titleBaseline: 323,
        })}
      />
      <ChartCanvas left={540} top={0} width={855} height={966} make={bigConfig} />
    </div>
  );
}
